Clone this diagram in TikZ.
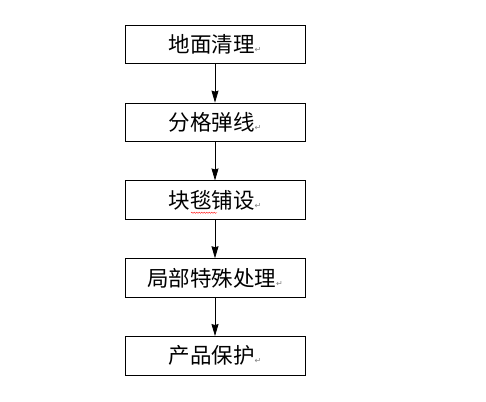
\documentclass[tikz,border=0pt]{standalone}
\usepackage{fontspec}
\newfontfamily\cjk{Noto Sans CJK SC}
\newfontfamily\symb{DejaVu Sans}
\usetikzlibrary{positioning,arrows.meta,decorations.pathmorphing}
\newcommand{\retmark}{{\symb\fontsize{8}{8}\selectfont\color{gray}\char"21B5}}
\begin{document}
\begin{tikzpicture}[x=1pt,y=1pt,
    box/.style={draw,line width=0.8pt,minimum width=180pt,minimum height=38.5pt,inner sep=0pt,font=\cjk\fontsize{21.5}{21.5}\selectfont},
    node distance=38.5pt]
    \useasboundingbox (0,0) rectangle (486,-401);
    \node [box] (a) at (215,-44.5) {地面清理\retmark};
    \node [box,below=of a] (b) {分格弹线\retmark};
    \node [box,below=of b] (c) {块毯铺设\retmark};
    \node [box,below=of c] (d) {局部特殊处理\retmark};
    \node [box,below=of d] (e) {产品保护\retmark};
    \foreach \from/\to in {a/b,b/c,c/d,d/e}
        \draw [line width=0.8pt,-{Stealth[length=12pt,width=7pt,inset=1pt]}] (\from) -- (\to);
    \draw [red,decorate,decoration={snake,amplitude=0.6pt,segment length=2.5pt}]
        ([xshift=-24pt,yshift=7pt]c.south) -- ([xshift=2pt,yshift=7pt]c.south);
\end{tikzpicture}
\end{document}
